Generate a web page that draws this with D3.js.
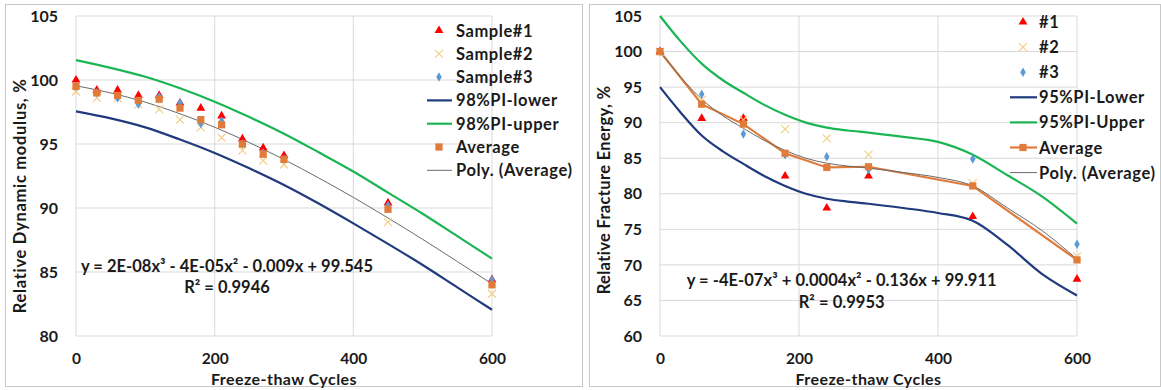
<!DOCTYPE html>
<html><head><meta charset="utf-8">
<script src="https://cdn.jsdelivr.net/npm/d3@7"></script>
<style>
body{margin:0;background:#fff;}
svg text{font-family:Lato,"Open Sans",sans-serif;font-weight:bold;fill:#1a1a1a;}
</style></head>
<body><svg id="c" width="1161" height="390"></svg>
<script>
// ---------- Left chart data ----------
const cyclesL = [0, 30, 60, 90, 120, 150, 180, 210, 240, 270, 300, 450, 600];
const sample1L = [100.0, 99.2, 99.2, 98.8, 98.8, 98.2, 97.8, 97.2, 95.4, 94.7, 94.1, 90.4, 84.4];
const sample2L = [99.1, 98.6, 98.6, 98.1, 97.7, 96.9, 96.3, 95.5, 94.5, 93.7, 93.4, 88.9, 83.3];
const sample3L = [99.5, 99.0, 98.6, 98.1, 98.7, 98.2, 96.6, 96.8, 95.0, 94.3, 93.8, 90.2, 84.4];
const averageL = [99.5, 99.0, 98.8, 98.4, 98.5, 97.8, 96.9, 96.5, 95.0, 94.2, 93.8, 89.9, 84.0];
const curveXL = [0, 50, 100, 150, 200, 250, 300, 350, 400, 450, 500, 550, 600];
const trendL = [99.55, 98.99, 98.27, 97.36, 96.31, 95.11, 93.79, 92.35, 90.83, 89.22, 87.55, 85.82, 84.07];
const upperL = [101.55, 100.95, 100.25, 99.35, 98.3, 97.1, 95.8, 94.35, 92.85, 91.2, 89.55, 87.8, 86.05];
const lowerL = [97.55, 97.0, 96.3, 95.35, 94.3, 93.1, 91.8, 90.35, 88.8, 87.2, 85.55, 83.8, 82.05];
const yTicksL = [80, 85, 90, 95, 100, 105];
const xTicks = [0, 200, 400, 600];
const legendL = ["Sample#1", "Sample#2", "Sample#3", "98%PI-lower", "98%PI-upper", "Average", "Poly. (Average)"];
const eqL = ["y = 2E-08x³ - 4E-05x² - 0.009x + 99.545", "R² = 0.9946"];
const yTitleL = "Relative Dynamic modulus, %";

// ---------- Right chart data ----------
const cyclesR = [0, 60, 120, 180, 240, 300, 450, 600];
const sample1R = [100.0, 90.6, 90.6, 82.5, 78.0, 82.5, 76.8, 68.0];
const sample2R = [100.0, 93.2, 90.4, 89.1, 87.8, 85.5, 81.5, 71.2];
const sample3R = [100.0, 94.0, 88.4, 85.5, 85.2, 83.4, 84.9, 72.9];
const averageR = [100.0, 92.6, 89.8, 85.7, 83.7, 83.8, 81.1, 70.7];
const curveXR = [0, 30, 60, 90, 120, 150, 180, 210, 240, 270, 300, 350, 400, 450, 500, 550, 600];
const trendR = [100.0, 96.4, 93.3, 91.0, 89.2, 87.5, 86.1, 85.0, 84.3, 83.9, 83.6, 83.0, 82.3, 81.1, 78.0, 74.8, 70.8];
const upperR = [105.0, 101.4, 98.3, 96.0, 94.2, 92.5, 91.1, 90.0, 89.3, 88.9, 88.6, 88.0, 87.3, 85.5, 82.6, 79.6, 75.8];
const lowerR = [95.0, 91.4, 88.2, 86.0, 84.2, 82.5, 81.1, 80.0, 79.3, 78.9, 78.6, 78.0, 77.3, 76.2, 72.8, 68.7, 65.7];
const yTicksR = [60, 65, 70, 75, 80, 85, 90, 95, 100, 105];
const legendR = ["#1", "#2", "#3", "95%PI-Lower", "95%PI-Upper", "Average", "Poly. (Average)"];
const eqR = ["y = -4E-07x³ + 0.0004x² - 0.136x + 99.911", "R² = 0.9953"];
const yTitleR = "Relative Fracture Energy, %";
const xTitle = "Freeze-thaw Cycles";

const COL = {red:"#ff0000", yel:"#f2cf86", blue:"#5b9bd5", navy:"#1f3a7d", green:"#1cb553", orange:"#e07b39", gray:"#6b6b6b", grid:"#d9d9d9"};

const svg = d3.select("#c");

// widen text to a target width via letter-spacing (keeps glyph height)
function spacingFor(sel, target) {
  const w = sel.node().getComputedTextLength();
  const n = sel.text().length;
  return Math.max(0, (target - w) / n);
}

const FS = 16.5;

function drawChart(o){
  const g = svg.append("g");
  g.append("rect").attr("x", o.panel[0]+0.5).attr("y", o.panel[1]+0.5)
    .attr("width", o.panel[2]).attr("height", o.panel[3])
    .attr("fill", "#fff").attr("stroke", "#c8c8c8");
  const x = d3.scaleLinear().domain([0, 600]).range([o.px0, o.px1]);
  const y = d3.scaleLinear().domain(o.yDom).range([336, 16]);
  // gridlines
  g.selectAll(".gy").data(o.yTicks).join("line")
    .attr("x1", x(0)).attr("x2", x(600)).attr("y1", d => y(d)).attr("y2", d => y(d))
    .attr("stroke", COL.grid).attr("stroke-width", 1);
  g.selectAll(".gx").data(xTicks).join("line")
    .attr("y1", y(o.yDom[0])).attr("y2", y(o.yDom[1])).attr("x1", d => x(d)).attr("x2", d => x(d))
    .attr("stroke", COL.grid).attr("stroke-width", 1);
  // axes labels
  const ay = g.append("g").attr("transform", `translate(${x(0)},0)`)
    .call(d3.axisLeft(y).tickValues(o.yTicks).tickSize(0).tickPadding(18));
  ay.select(".domain").remove();
  ay.selectAll("text").attr("font-size", 16).attr("font-family", "Lato").attr("font-weight", "bold").attr("fill", "#1a1a1a");
  const ax = g.append("g").attr("transform", `translate(0,${y(o.yDom[0])})`)
    .call(d3.axisBottom(x).tickValues(xTicks).tickSize(0).tickPadding(17));
  ax.select(".domain").remove();
  ax.selectAll("text").attr("font-size", 15.5).attr("font-family", "Lato").attr("font-weight", "bold").attr("fill", "#1a1a1a");
  // titles
  const yt = g.append("text").attr("transform", `translate(${o.ytx},${o.yty}) rotate(-90)`)
    .attr("text-anchor", "middle").attr("dominant-baseline", "central").attr("font-size", FS).text(o.yTitle);
  yt.attr("letter-spacing", spacingFor(yt, o.ytw));
  const xt = g.append("text").attr("x", (x(0)+x(600))/2).attr("y", 384.5).attr("text-anchor", "middle")
    .attr("font-size", 16).text(xTitle);
  xt.attr("letter-spacing", spacingFor(xt, 146));

  const line = (xs, ys, curve) => d3.line().x((d,i) => x(xs[i])).y(d => y(d)).curve(curve)(ys);
  // PI lines
  g.append("path").attr("d", line(o.curveX, o.lower, d3.curveMonotoneX)).attr("fill", "none").attr("stroke", COL.navy).attr("stroke-width", 2.2);
  g.append("path").attr("d", line(o.curveX, o.upper, d3.curveMonotoneX)).attr("fill", "none").attr("stroke", COL.green).attr("stroke-width", 2.2);
  if (o.avgLine) g.append("path").attr("d", line(o.cycles, o.avg, d3.curveLinear)).attr("fill", "none").attr("stroke", COL.orange).attr("stroke-width", 2.2);
  g.append("path").attr("d", line(o.curveX, o.trend, d3.curveMonotoneX)).attr("fill", "none").attr("stroke", COL.gray).attr("stroke-width", 1);

  const tri = d3.symbol().type(d3.symbolTriangle).size(34)();
  const dia = d3.symbol().type(d3.symbolDiamond).size(26)();
  const mark = {
    tri: (sel) => sel.append("path").attr("d", tri).attr("fill", COL.red),
    x: (sel) => sel.append("path").attr("d", "M-4,-4L4,4M-4,4L4,-4").attr("stroke", COL.yel).attr("stroke-width", 1.2).attr("fill", "none"),
    dia: (sel) => sel.append("path").attr("d", dia).attr("fill", COL.blue),
    sq: (sel) => sel.append("rect").attr("x", -3.6).attr("y", -3.6).attr("width", 7.2).attr("height", 7.2).attr("fill", COL.orange)
  };
  const plotPts = (vals, kind) => {
    vals.forEach((v, i) => {
      const s = g.append("g").attr("transform", `translate(${x(o.cycles[i])},${y(v)})`);
      mark[kind](s);
    });
  };
  plotPts(o.s1, "tri");
  plotPts(o.s2, "x");
  plotPts(o.s3, "dia");
  plotPts(o.avg, "sq");

  // legend
  const kinds = ["tri", "x", "dia", "navy", "green", "avg", "gray"];
  const texts = [];
  o.legend.forEach((lab, i) => {
    const ly = o.leg.y0 + i * o.leg.dy;
    const k = kinds[i];
    if (k === "tri" || k === "x" || k === "dia") {
      const s = g.append("g").attr("transform", `translate(${o.leg.mx},${ly})`);
      mark[k](s);
    } else {
      const c = k === "navy" ? COL.navy : k === "green" ? COL.green : k === "gray" ? COL.gray : COL.orange;
      const w = k === "gray" ? 1 : 2.2;
      if (k !== "avg" || o.avgLine)
        g.append("line").attr("x1", o.leg.l0).attr("x2", o.leg.l1).attr("y1", ly).attr("y2", ly).attr("stroke", c).attr("stroke-width", w);
      if (k === "avg") { const s = g.append("g").attr("transform", `translate(${o.leg.mx},${ly})`); mark.sq(s); }
    }
    texts.push(g.append("text").attr("x", o.leg.tx).attr("y", ly).attr("dominant-baseline", "central")
      .attr("font-size", FS).text(lab));
  });
  const ls = spacingFor(texts[6], 116.5);
  texts.forEach(t => t.attr("letter-spacing", ls));
  // equation
  const e1 = g.append("text").attr("x", o.eq.cx).attr("y", o.eq.y1).attr("text-anchor", "middle").attr("dominant-baseline", "central").attr("font-size", FS).text(o.eqText[0]);
  const els = spacingFor(e1, o.eq.w);
  e1.attr("letter-spacing", els);
  g.append("text").attr("x", o.eq.cx).attr("y", o.eq.y2).attr("text-anchor", "middle").attr("dominant-baseline", "central").attr("font-size", FS).attr("letter-spacing", els).text(o.eqText[1]);
}

drawChart({panel:[5,4,577,382], px0:76, px1:492, yDom:[80,105], yTicks:yTicksL, ytx:19.5, yty:196, ytw:235,
  yTitle:yTitleL, cycles:cyclesL, s1:sample1L, s2:sample2L, s3:sample3L, avg:averageL,
  curveX:curveXL, trend:trendL, upper:upperL, lower:lowerL, avgLine:false,
  legend:legendL, leg:{y0:30.5, dy:23.3, mx:439, tx:456, l0:427, l1:452},
  eqText:eqL, eq:{cx:227, y1:266, y2:287, w:292}});

drawChart({panel:[589,4,571,382], px0:660, px1:1077, yDom:[60,105], yTicks:yTicksR, ytx:604, yty:190, ytw:209,
  yTitle:yTitleR, cycles:cyclesR, s1:sample1R, s2:sample2R, s3:sample3R, avg:averageR,
  curveX:curveXR, trend:trendR, upper:upperR, lower:lowerR, avgLine:true,
  legend:legendR, leg:{y0:22, dy:25.1, mx:1023, tx:1039, l0:1010, l1:1037},
  eqText:eqR, eq:{cx:841.7, y1:280, y2:302, w:310}});
</script></body></html>
